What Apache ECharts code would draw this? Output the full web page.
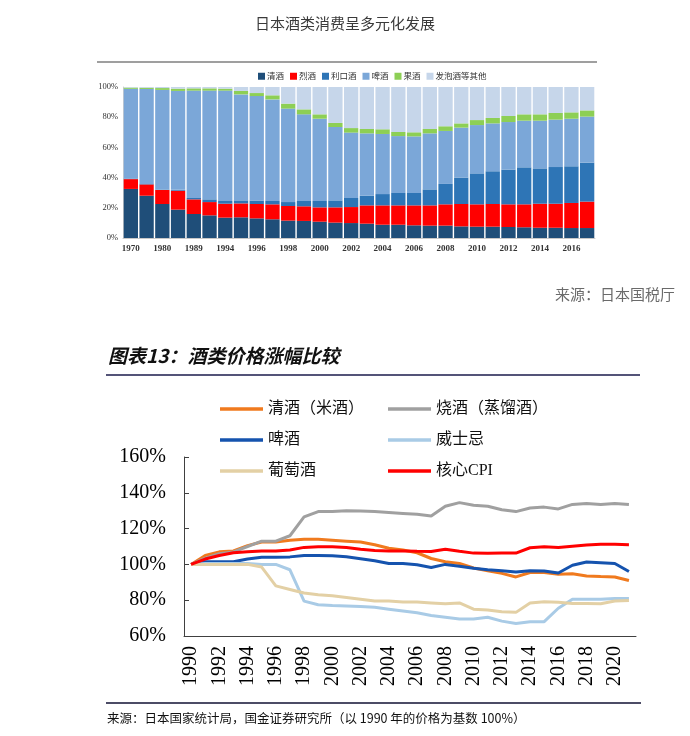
<!DOCTYPE html>
<html><head><meta charset="utf-8">
<script src="https://cdn.jsdelivr.net/npm/echarts@6/dist/echarts.min.js"></script>
<style>html,body{margin:0;padding:0;background:#fff;}#c1,#c2{position:absolute;left:0;top:0;width:690px;height:736px;}</style>
</head><body><div id="c1"></div><div id="c2"></div>
<script>
// ---------- top chart: share of alcohol consumption in Japan ----------
const barYears = ['1970','1975','1980','1985','1989','1990','1994','1995','1996','1997','1998','1999','2000','2001','2002','2003','2004','2005','2006','2007','2008','2009','2010','2011','2012','2013','2014','2015','2016','2017'];
const shareSake    = [32.5,28,22.5,18.8,15.9,15,13.5,13.7,13,12.4,11.5,11.3,10.8,10.2,9.9,9.5,8.8,8.8,8.4,8.2,8.2,7.7,7.5,7.5,7.3,7.1,6.8,6.8,6.6,6.6];
const shareSpirits = [6.5,7.5,9.3,12.5,9.7,8.8,9.2,9.2,9.5,9.9,9.7,9.7,9.5,10.1,10.6,12.1,12.8,12.8,13.2,13.4,14.1,14.8,14.8,15,15,15.2,15.9,15.9,16.6,17.5];
const shareLiqueur = [0.3,0.3,0.3,0.6,0.9,1.8,1.8,2,2.2,2.2,2.6,3.5,4.2,4.6,6,6.4,7.5,8.2,8.2,10.6,13.5,17.5,20.5,21.7,23,24.5,23.4,24.3,24.3,25.8];
const shareBeer    = [59.5,62.9,66,65.5,71.1,72,73.1,70.2,69.3,67.3,61.9,57.4,54.5,48.6,43.3,41.3,39.8,37.7,37.5,37.1,35.1,33.1,32,31.7,31.5,30.9,31.6,31.4,31.5,30.5];
const shareFruit   = [0.8,0.8,1.2,1.5,1.5,1.5,1.3,2.3,2,2.7,3.3,3.3,2.9,2.7,3,2.9,3.1,2.7,2.7,2.9,3.1,2.8,3.3,3.6,4,4.2,4.2,4.4,4.2,4.1];
const shareOther   = [0.4,0.5,0.7,1.1,0.9,0.9,1.1,2.6,4,5.5,11,14.8,18.1,23.8,27.2,27.8,28,29.8,30,27.8,26,24.1,21.9,20.5,19.2,18.1,18.1,17.2,16.8,15.5];
const barNames = ['清酒','烈酒','利口酒','啤酒','果酒','发泡酒等其他'];

// ---------- bottom chart: price index (1990 = 100%) ----------
const lineYears = ['1990','1991','1992','1993','1994','1995','1996','1997','1998','1999','2000','2001','2002','2003','2004','2005','2006','2007','2008','2009','2010','2011','2012','2013','2014','2015','2016','2017','2018','2019','2020','2021'];
const idxSake    = [100,105,107,107.5,110.5,112.5,112.5,113.5,114,114,113.5,113,112.5,111,109,108,106.5,103.3,101.5,100.5,98,96.5,95,93,95.5,95.5,94.5,94.8,93.5,93.2,93,91];
const idxShochu  = [100,103.5,106,107,110,113,113,116,126.5,129.5,129.5,130,129.8,129.5,129,128.5,128,127,132.5,134.5,133,132.5,130.5,129.5,131.5,132,131,133.5,134,133.5,134,133.5];
const idxBeer    = [100,101.5,101.5,101.5,103,104,104,104.2,105,105,104.8,104.3,103.2,102,100.5,100.5,99.8,98.3,100,99,97.8,97,96.5,95.7,96.5,96.3,95.2,99.5,101.3,100.9,100.5,96];
const idxWhisky  = [100,100.5,100.5,100.5,100.5,100,100,97,79.5,77.5,77,76.8,76.5,76,75,74,73,71.5,70.5,69.5,69.5,70.5,68.3,67,68,68,75.5,80.5,80.5,80.5,81,81];
const idxWine    = [100,100,100,100,100,98.5,88,86,84,83,82.5,81.5,80.5,79.5,79.5,79,79,78.5,78,78.5,75,74.5,73.5,73.2,78.5,79.2,78.8,78.2,78.2,78,79.5,79.8];
const idxCPI     = [100,103,105,106.5,107,107.5,107.5,108,109.5,109.8,109.8,109.5,108.5,107.8,107.5,107.5,107.3,107.2,108.5,107.3,106.3,106.2,106.3,106.3,109.3,109.8,109.5,110.2,110.8,111.3,111.2,111];
const lineNames = ['清酒（米酒）','烧酒（蒸馏酒）','啤酒','威士忌','葡萄酒','核心CPI'];

const barColors = ['#1F4E79','#FF0000','#2E75B6','#7BA7D8','#8DCF55','#C6D6EA'];
const lineColors = ['#F07A1E','#A0A0A0','#1553AE','#A9CBE6','#E3D0A5','#FF0000'];
const cjk = '"Noto Sans CJK SC", sans-serif';
const serif = '"Liberation Serif", "Noto Sans CJK SC", serif';

const c1 = echarts.init(document.getElementById('c1'), null, {renderer:'canvas'});
const shares = [shareSake, shareSpirits, shareLiqueur, shareBeer, shareFruit, shareOther];
c1.setOption({
  animation:false,
  backgroundColor:'transparent',
  graphic:[
    {type:'text', left:'center', top:16, style:{text:'日本酒类消费呈多元化发展', font:'15px '+cjk, fill:'#3a3a3a'}},
    {type:'line', shape:{x1:97,y1:62,x2:597,y2:62}, style:{stroke:'#7f7f7f', lineWidth:1.5}},
    {type:'text', left:555, top:287, style:{text:'来源：日本国税厅', font:'15px '+cjk, fill:'#6a6a6a'}}
  ],
  legend:{data:barNames, top:67, left:253, itemWidth:7, itemHeight:7, itemGap:6, icon:'rect',
    textStyle:{fontSize:8.5, fontFamily:cjk, color:'#333', padding:[0,0,0,-3]}},
  grid:{left:123, right:95, top:87, bottom:498},
  xAxis:{type:'category', data:barYears, axisTick:{show:false},
    axisLine:{lineStyle:{color:'#c8c8c8'}},
    axisLabel:{interval:1, fontSize:9, fontWeight:'bold', fontFamily:serif, color:'#333', margin:6}},
  yAxis:{type:'value', min:0, max:100, interval:20, splitLine:{show:false},
    axisLine:{show:true, lineStyle:{color:'#d0d0d0'}}, axisTick:{show:false},
    axisLabel:{formatter:'{value}%', fontSize:8.5, fontFamily:serif, color:'#333', margin:5}},
  series: barNames.map((n,i)=>({name:n, type:'bar', stack:'s', data:shares[i], barCategoryGap:'9%',
    itemStyle:{color:barColors[i]}}))
});

const c2 = echarts.init(document.getElementById('c2'), null, {renderer:'canvas'});
const idx = [idxSake, idxShochu, idxBeer, idxWhisky, idxWine, idxCPI];
const legendPos = [[215,396],[383,396],[215,427],[383,427],[215,458],[383,458]];
c2.setOption({
  animation:false,
  backgroundColor:'transparent',
  graphic:[
    {type:'text', left:108, top:346, style:{text:'图表13：酒类价格涨幅比较', font:'italic bold 19px '+cjk, fill:'#111'}},
    {type:'line', shape:{x1:106,y1:375,x2:640,y2:375}, style:{stroke:'#1b1b4b', lineWidth:1.5}},
    {type:'line', shape:{x1:106,y1:703,x2:641,y2:703}, style:{stroke:'#111133', lineWidth:1.5}},
    {type:'text', left:107, top:712, style:{text:'来源：日本国家统计局，国金证券研究所（以 1990 年的价格为基数 100%）', font:'12.5px '+cjk, fill:'#111'}}
  ],
  legend: lineNames.map((n,i)=>({data:[n], left:legendPos[i][0], top:legendPos[i][1], icon:'rect',
    itemWidth:43, itemHeight:3.5, itemGap:4, textStyle:{fontSize:16, fontFamily:serif, color:'#111'}})),
  grid:{left:184, right:54, top:457, bottom:100},
  xAxis:{type:'category', data:lineYears, boundaryGap:true,
    axisLine:{lineStyle:{color:'#404040', width:1}},
    axisTick:{inside:true, length:5, interval:0, lineStyle:{color:'#404040'}},
    axisLabel:{interval:1, rotate:90, fontSize:20, fontFamily:serif, color:'#000', margin:10}},
  yAxis:{type:'value', min:60, max:160, interval:20, splitLine:{show:false},
    axisLine:{show:true, lineStyle:{color:'#404040', width:1}},
    axisTick:{show:true, inside:true, length:5, lineStyle:{color:'#404040'}},
    axisLabel:{formatter:'{value}%', fontSize:20, fontFamily:serif, color:'#000', margin:18}},
  series: lineNames.map((n,i)=>({name:n, type:'line', data:idx[i], symbol:'none', smooth:false,
    lineStyle:{width:3, color:lineColors[i]}, itemStyle:{color:lineColors[i]}, z: i===5?5:2}))
});
</script></body></html>
